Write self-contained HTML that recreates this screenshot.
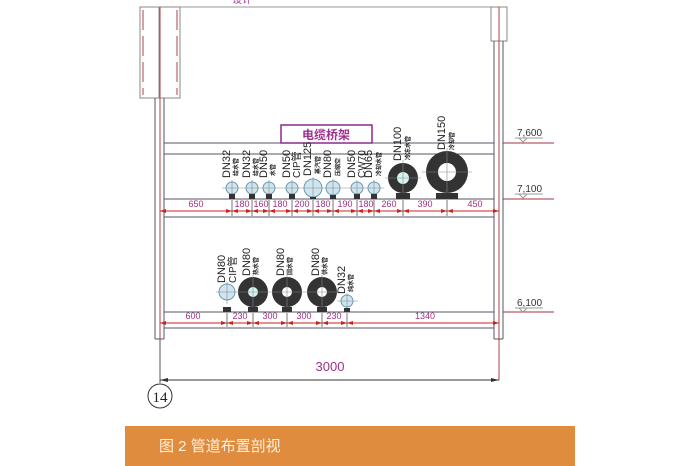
<!DOCTYPE html>
<html><head><meta charset="utf-8"><style>
html,body{margin:0;padding:0;background:#fff;}
svg{display:block}
</style></head><body>
<svg width="700" height="466" viewBox="0 0 700 466" xmlns="http://www.w3.org/2000/svg" font-family="Liberation Sans, Noto Sans CJK SC, sans-serif">
<rect width="700" height="466" fill="#fff"/>
<text x="232" y="3" font-size="10" fill="#a040a0">设计</text>
<line x1="140" y1="7" x2="507" y2="7" stroke="#999" stroke-width="1"/>
<rect x="140" y="7" width="40" height="91" fill="none" stroke="#888" stroke-width="1"/>
<line x1="143" y1="10" x2="143" y2="95" stroke="#b04040" stroke-dasharray="20,6"/>
<line x1="177" y1="10" x2="177" y2="95" stroke="#b04040" stroke-dasharray="20,6"/>
<line x1="159" y1="7" x2="159" y2="98" stroke="#888"/>
<line x1="160" y1="7" x2="160" y2="339" stroke="#b04040" stroke-width="1"/>
<line x1="155" y1="98" x2="155" y2="339" stroke="#556"/>
<line x1="164" y1="98" x2="164" y2="339" stroke="#556"/>
<line x1="155" y1="339" x2="164" y2="339" stroke="#556"/>
<rect x="491" y="7" width="16" height="34" fill="none" stroke="#888"/>
<line x1="499" y1="7" x2="499" y2="380" stroke="#b04040"/>
<line x1="494" y1="41" x2="494" y2="339" stroke="#556"/>
<line x1="503" y1="41" x2="503" y2="339" stroke="#556"/>
<line x1="494" y1="339" x2="503" y2="339" stroke="#556"/>
<line x1="164" y1="143" x2="494" y2="143" stroke="#556"/>
<line x1="164" y1="154" x2="494" y2="154" stroke="#556"/>
<line x1="164" y1="199" x2="494" y2="199" stroke="#556"/>
<line x1="164" y1="217" x2="494" y2="217" stroke="#556"/>
<line x1="503" y1="143" x2="554" y2="143" stroke="#a03040"/>
<line x1="503" y1="199" x2="554" y2="199" stroke="#a03040"/>
<line x1="503" y1="312" x2="554" y2="312" stroke="#a03040"/>
<g font-size="10" fill="#333">
<text x="517" y="136">7,600</text><text x="517" y="192">7,100</text><text x="517" y="306">6,100</text>
</g>
<g stroke="#999" fill="none"><path d="M515,138h28M519,138l4,4l4,-4"/><path d="M515,194h28M519,194l4,4l4,-4"/><path d="M515,308h28M519,308l4,4l4,-4"/></g>
<rect x="281" y="125" width="91" height="18" fill="#fff" stroke="#8a2a8a" stroke-width="1.5"/>
<text x="326" y="139" font-size="12" font-weight="bold" fill="#a03090" text-anchor="middle">电缆桥架</text>
<line x1="160" y1="211" x2="499" y2="211" stroke="#d02020" stroke-width="1"/>
<g stroke="#555" stroke-width="0.8">
<line x1="232" y1="200" x2="232" y2="216"/><line x1="252" y1="200" x2="252" y2="216"/><line x1="269" y1="200" x2="269" y2="216"/><line x1="292" y1="200" x2="292" y2="216"/><line x1="313" y1="200" x2="313" y2="216"/><line x1="333" y1="200" x2="333" y2="216"/><line x1="357" y1="200" x2="357" y2="216"/><line x1="374" y1="200" x2="374" y2="216"/><line x1="403" y1="200" x2="403" y2="216"/><line x1="447" y1="200" x2="447" y2="216"/>
</g>
<g fill="#d02020">
<path d="M160,211l6,-2v4zM232,211l-6,-2v4zM232,211l6,-2v4zM252,211l-6,-2v4zM252,211l6,-2v4zM269,211l-6,-2v4zM269,211l6,-2v4zM292,211l-6,-2v4zM292,211l6,-2v4zM313,211l-6,-2v4zM313,211l6,-2v4zM333,211l-6,-2v4zM333,211l6,-2v4zM357,211l-6,-2v4zM357,211l6,-2v4zM374,211l-6,-2v4zM374,211l6,-2v4zM403,211l-6,-2v4zM403,211l6,-2v4zM447,211l-6,-2v4zM447,211l6,-2v4zM499,211l-6,-2v4z"/>
<path d="M160,323l6,-2v4zM227,323l-6,-2v4zM227,323l6,-2v4zM253,323l-6,-2v4zM253,323l6,-2v4zM287,323l-6,-2v4zM287,323l6,-2v4zM322,323l-6,-2v4zM322,323l6,-2v4zM347,323l-6,-2v4zM347,323l6,-2v4zM499,323l-6,-2v4z"/>
</g>
<g font-size="9" fill="#a03080" text-anchor="middle">
<text x="196" y="207">650</text><text x="242" y="207">180</text><text x="261" y="207">160</text><text x="280" y="207">180</text><text x="302" y="207">200</text><text x="323" y="207">180</text><text x="345" y="207">190</text><text x="366" y="207">180</text><text x="389" y="207">260</text><text x="425" y="207">390</text><text x="475" y="207">450</text>
</g>
<g stroke="#6a9ab0" fill="#cfe6f0" stroke-width="1">
<circle cx="232" cy="188" r="6"/><circle cx="252" cy="188" r="6"/><circle cx="269" cy="188" r="6"/><circle cx="292" cy="188" r="6"/><circle cx="313" cy="188" r="9"/><circle cx="333" cy="188" r="7"/><circle cx="357" cy="188" r="6"/><circle cx="374" cy="188" r="6"/>
</g>
<circle cx="403" cy="178" r="15" fill="#333"/><circle cx="403" cy="178" r="6" fill="#d8f4f0"/>
<circle cx="447" cy="172" r="21" fill="#333"/><circle cx="447" cy="172" r="9" fill="#fff"/>
<g stroke="#888" stroke-width="0.6"><line x1="222" y1="188" x2="384" y2="188"/><line x1="385" y1="178" x2="421" y2="178"/><line x1="422" y1="172" x2="472" y2="172"/>
<path d="M232,180v16M252,180v16M269,180v16M292,180v16M313,177v22M333,179v18M357,180v16M374,180v16M403,160v35M447,148v46"/></g>
<g fill="#333"><rect x="229" y="194" width="6" height="5"/><rect x="249" y="194" width="6" height="5"/><rect x="266" y="194" width="6" height="5"/><rect x="289" y="194" width="6" height="5"/><rect x="310" y="197" width="6" height="2"/><rect x="330" y="195" width="6" height="4"/><rect x="354" y="194" width="6" height="5"/><rect x="371" y="194" width="6" height="5"/><rect x="396" y="193" width="14" height="6"/><rect x="436" y="193" width="22" height="6"/></g>
<g font-size="11" fill="#222">
<text transform="translate(230,178) rotate(-90)">DN32</text><text transform="translate(250,178) rotate(-90)">DN32</text><text transform="translate(267,178) rotate(-90)">DN50</text><text transform="translate(290,178) rotate(-90)">DN50</text><text transform="translate(311,176) rotate(-90)">DN125</text><text transform="translate(331,178) rotate(-90)">DN80</text><text transform="translate(355,178) rotate(-90)">DN50</text><text transform="translate(372,178) rotate(-90)">DN65</text><text transform="translate(401,161) rotate(-90)">DN100</text><text transform="translate(445,150) rotate(-90)">DN150</text>
<text transform="translate(300,178) rotate(-90)" font-size="10">CIP管</text><text transform="translate(365,178) rotate(-90)" font-size="10">CW70</text>
</g>
<g font-size="6" fill="#222" font-weight="bold">
<text transform="translate(238,176) rotate(-90)">给水管</text><text transform="translate(258,176) rotate(-90)">给水管</text><text transform="translate(275,176) rotate(-90)">水管</text><text transform="translate(320,174) rotate(-90)">蒸汽管</text><text transform="translate(340,176) rotate(-90)">压缩空</text><text transform="translate(381,176) rotate(-90)">冷却水管</text><text transform="translate(410,160) rotate(-90)">冷冻水管</text><text transform="translate(454,150) rotate(-90)">冷却管</text>
</g>
<line x1="164" y1="312" x2="494" y2="312" stroke="#556"/>
<line x1="164" y1="328" x2="494" y2="328" stroke="#556"/>
<line x1="160" y1="323" x2="499" y2="323" stroke="#d02020"/>
<g stroke="#555" stroke-width="0.8"><line x1="227" y1="313" x2="227" y2="327"/><line x1="253" y1="313" x2="253" y2="327"/><line x1="287" y1="313" x2="287" y2="327"/><line x1="322" y1="313" x2="322" y2="327"/><line x1="347" y1="313" x2="347" y2="327"/></g>
<g font-size="9" fill="#a03080" text-anchor="middle">
<text x="193" y="319">600</text><text x="240" y="319">230</text><text x="270" y="319">300</text><text x="304" y="319">300</text><text x="334" y="319">230</text><text x="425" y="319">1340</text>
</g>
<circle cx="227" cy="292" r="8" fill="#cfe6f0" stroke="#6a9ab0"/>
<circle cx="253" cy="292" r="15" fill="#333"/><circle cx="253" cy="292" r="5" fill="#d8f4f0"/>
<circle cx="287" cy="292" r="15" fill="#333"/><circle cx="287" cy="292" r="5" fill="#fff"/>
<circle cx="322" cy="292" r="15" fill="#333"/><circle cx="322" cy="292" r="5" fill="#fff"/>
<circle cx="347" cy="301" r="6" fill="#cfe6f0" stroke="#6a9ab0"/>
<g stroke="#888" stroke-width="0.6"><line x1="216" y1="292" x2="340" y2="292"/><line x1="337" y1="301" x2="358" y2="301"/><path d="M227,282v22M253,275v33M287,275v33M322,275v33M347,293v15"/></g>
<g fill="#333"><rect x="223" y="307" width="8" height="5"/><rect x="248" y="307" width="10" height="5"/><rect x="282" y="307" width="10" height="5"/><rect x="317" y="307" width="10" height="5"/><rect x="344" y="308" width="6" height="4"/></g>
<g font-size="11" fill="#222">
<text transform="translate(225,283) rotate(-90)">DN80</text><text transform="translate(236,283) rotate(-90)" font-size="10">CIP管</text><text transform="translate(250,276) rotate(-90)">DN80</text><text transform="translate(284,276) rotate(-90)">DN80</text><text transform="translate(319,276) rotate(-90)">DN80</text><text transform="translate(345,294) rotate(-90)">DN32</text>
</g>
<g font-size="6" fill="#222" font-weight="bold">
<text transform="translate(258,275) rotate(-90)">热水管</text><text transform="translate(292,275) rotate(-90)">回水管</text><text transform="translate(327,275) rotate(-90)">供水管</text><text transform="translate(353,292) rotate(-90)">纯水管</text>
</g>
<line x1="160" y1="339" x2="160" y2="383" stroke="#555"/>
<line x1="160" y1="380" x2="499" y2="380" stroke="#333"/>
<path d="M160,380l8,-2v4z M499,380l-8,-2v4z" fill="#333"/>
<text x="330" y="371" font-size="13" fill="#a03080" text-anchor="middle">3000</text>
<circle cx="160" cy="396" r="12" fill="#fff" stroke="#333"/>
<text x="160" y="402" font-size="15" font-family="Liberation Serif, serif" text-anchor="middle" fill="#222">14</text>
<rect x="125" y="426" width="450" height="40" fill="#e08c3e"/>
<text x="159" y="451" font-size="15" fill="#fdf0e0">图 2  管道布置剖视</text>
</svg>
</body></html>
